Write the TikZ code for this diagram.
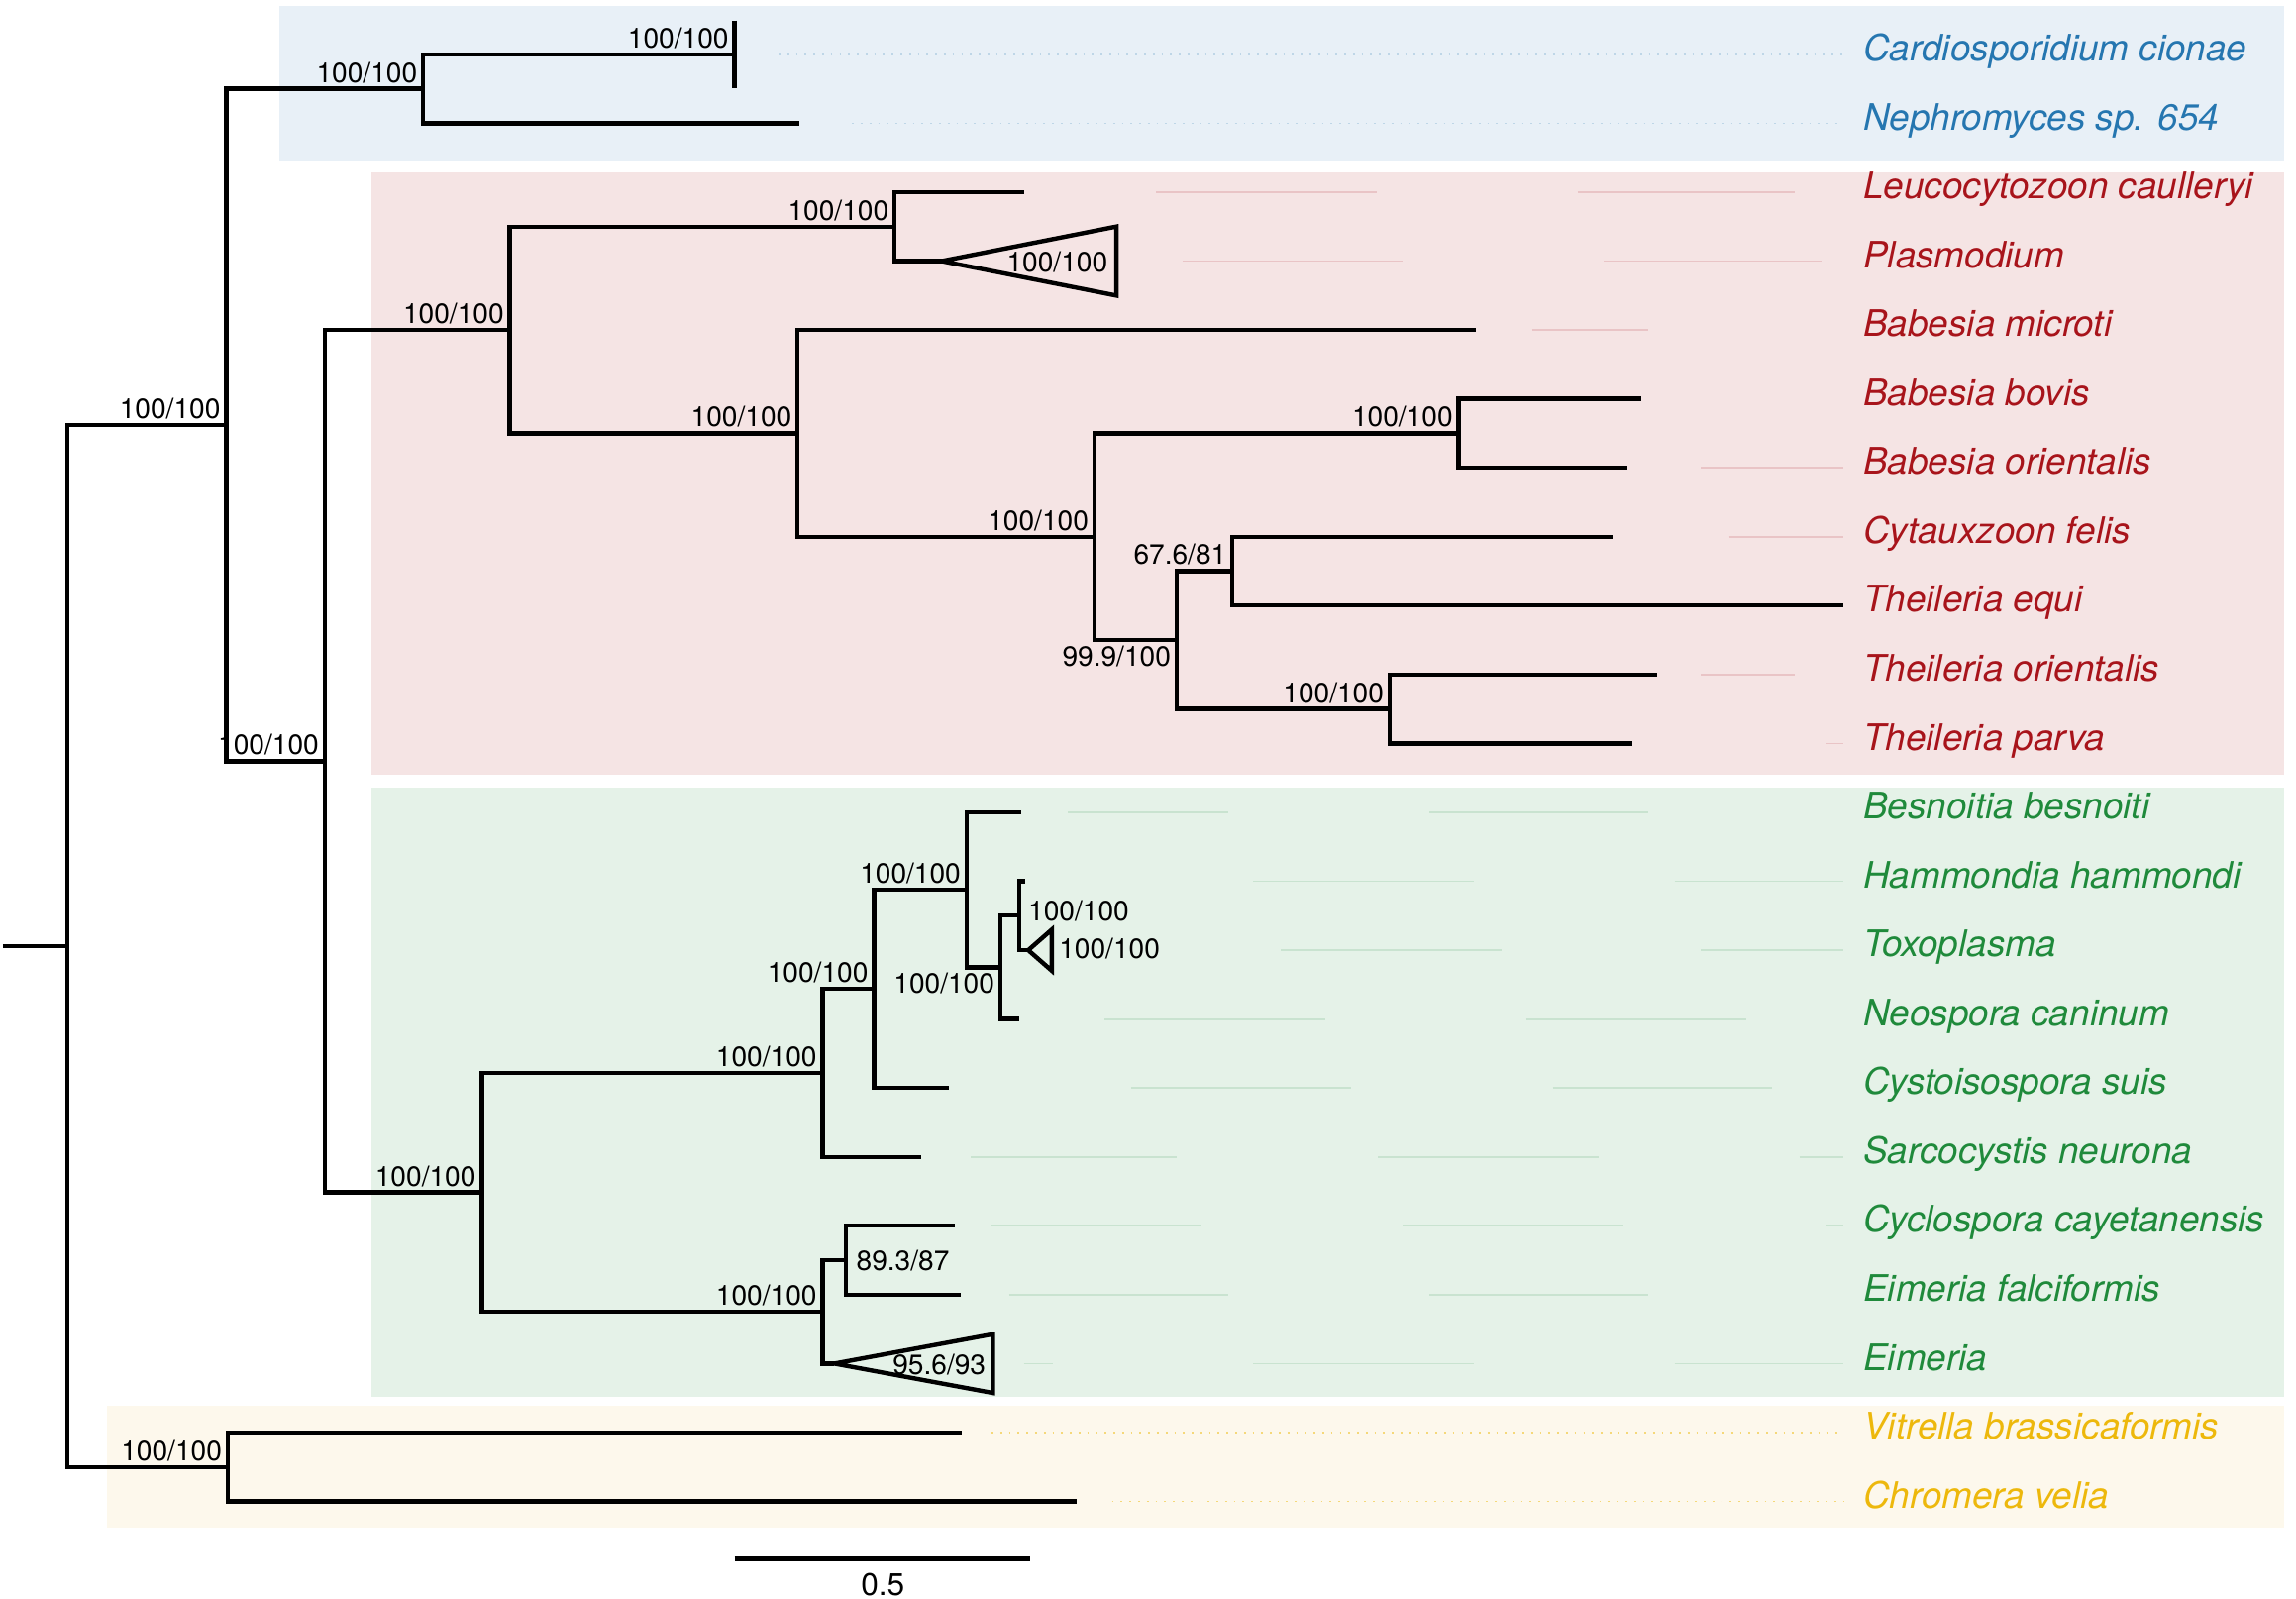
\documentclass[tikz,border=0pt]{standalone}
\usepackage{fontspec}
\setmainfont{TeX Gyre Heros}
\usepackage{tikz}
\usetikzlibrary{calc}

\definecolor{bgblue}{HTML}{E8F0F7}
\definecolor{bgpink}{HTML}{F5E4E4}
\definecolor{bggreen}{HTML}{E5F2E8}
\definecolor{bgyellow}{HTML}{FDF8EC}
\definecolor{txtblue}{HTML}{2576B0}
\definecolor{txtred}{HTML}{A8141B}
\definecolor{txtgreen}{HTML}{1F8A3B}
\definecolor{txtyellow}{HTML}{EDB80C}

\tikzset{
  branch/.style={line width=1.25pt},
  support/.style={font=\fontsize{8}{9}\selectfont, inner sep=1.5pt},
  taxon/.style={anchor=base west, inner sep=0pt, font=\itshape\fontsize{10.5}{12}\selectfont},
  guide/.style={line width=0.5pt},
}

\begin{document}
\begin{tikzpicture}[x=0.01483cm,y=-0.01483cm]
\useasboundingbox (0,0) rectangle (1563,1088.3);

% clade boxes
\fill[bgblue] (190,4) rectangle (1555,110);
\fill[bgpink] (253,117) rectangle (1555,527);
\fill[bggreen] (253,536) rectangle (1555,951);
\fill[bgyellow] (73,957) rectangle (1555,1040);

% faint guide lines to the names
\foreach \y/\a/\b in {37/530/1255, 83.9/580/1255}
  \draw[guide, txtblue!30, dotted] (\a,\y) -- (\b,\y);
\foreach \y/\a/\b in {975/675/1255, 1021.9/757/1255}
  \draw[guide, txtyellow!55, dotted] (\a,\y) -- (\b,\y);
\foreach \y/\a/\b in {130.8/787/937, 130.8/1074/1222, 177.7/805/955, 177.7/1092/1240,
    224.6/1043/1122, 318.4/1158/1255, 365.3/1177/1255, 459.1/1158/1222, 506/1243/1255}
  \draw[guide, txtred!25] (\a,\y) -- (\b,\y);
\foreach \y/\a/\b in {552.9/727/836, 552.9/973/1122, 599.8/853/1003, 599.8/1140/1255,
    646.7/872/1022, 646.7/1158/1255, 693.6/752/902, 693.6/1039/1189,
    740.5/770/920, 740.5/1057/1206, 787.4/661/801, 787.4/938/1088, 787.4/1225/1255,
    834.3/675/818, 834.3/955/1105, 834.3/1243/1255, 881.2/687/836, 881.2/973/1122,
    928.1/697/717, 928.1/853/1003, 928.1/1140/1255}
  \draw[guide, txtgreen!24] (\a,\y) -- (\b,\y);

% inner nodes
\coordinate (stem) at (2,643.9);
\coordinate (root) at (46,643.9);
\coordinate (A) at (154,289.3);
\coordinate (Bl) at (288,60.45);
\coordinate (B) at (221,518.1);
\coordinate (C) at (347,224.6);
\coordinate (D) at (609,154.25);
\coordinate (E) at (543,294.95);
\coordinate (F) at (745,365.3);
\coordinate (G) at (993,294.95);
\coordinate (H) at (801,435.65);
\coordinate (I) at (839,388.75);
\coordinate (J) at (946,482.55);
\coordinate (K) at (328,811.6);
\coordinate (L) at (560,730.25);
\coordinate (M) at (595,673.1);
\coordinate (N) at (658,605.65);
\coordinate (O) at (681,658.4);
\coordinate (P) at (694,623.25);
\coordinate (Q) at (560,892.9);
\coordinate (R) at (576,857.75);
\coordinate (S) at (155,998.45);

% tips
\coordinate (cardio) at (500,37);
\coordinate (neph) at (544,83.9);
\coordinate (leuco) at (697,130.8);
\coordinate (plasmo) at (641,177.7);
\coordinate (bmic) at (1005,224.6);
\coordinate (bbov) at (1117,271.5);
\coordinate (bori) at (1108,318.4);
\coordinate (cyta) at (1098,365.3);
\coordinate (tequi) at (1255,412.2);
\coordinate (tori) at (1128,459.1);
\coordinate (tpar) at (1111,506);
\coordinate (besn) at (695,552.9);
\coordinate (hamm) at (698,599.8);
\coordinate (toxo) at (700,646.7);
\coordinate (neo) at (694,693.6);
\coordinate (cysto) at (646,740.5);
\coordinate (sarco) at (627,787.4);
\coordinate (cyclo) at (650,834.3);
\coordinate (efalc) at (654,881.2);
\coordinate (eim) at (568,928.1);
\coordinate (vitr) at (655,975);
\coordinate (chrom) at (733,1021.9);

% branches
\draw[branch] (stem) -- (root);
\draw[branch] (root) |- (A);
\draw[branch] (root) |- (S);
\draw[branch] (A) |- (Bl);
\draw[branch] (A) |- (B);
\draw[branch] (Bl) |- (cardio);
\draw[branch] (Bl) |- (neph);
\draw[branch] (B) |- (C);
\draw[branch] (B) |- (K);
\draw[branch] (C) |- (D);
\draw[branch] (C) |- (E);
\draw[branch] (D) |- (leuco);
\draw[branch] (D) |- (plasmo);
\draw[branch] (E) |- (bmic);
\draw[branch] (E) |- (F);
\draw[branch] (F) |- (G);
\draw[branch] (F) |- (H);
\draw[branch] (G) |- (bbov);
\draw[branch] (G) |- (bori);
\draw[branch] (H) |- (I);
\draw[branch] (H) |- (J);
\draw[branch] (I) |- (cyta);
\draw[branch] (I) |- (tequi);
\draw[branch] (J) |- (tori);
\draw[branch] (J) |- (tpar);
\draw[branch] (K) |- (L);
\draw[branch] (K) |- (Q);
\draw[branch] (L) |- (M);
\draw[branch] (L) |- (sarco);
\draw[branch] (M) |- (N);
\draw[branch] (M) |- (cysto);
\draw[branch] (N) |- (besn);
\draw[branch] (N) |- (O);
\draw[branch] (O) |- (P);
\draw[branch] (O) |- (neo);
\draw[branch] (P) |- (hamm);
\draw[branch] (P) |- (toxo);
\draw[branch] (Q) |- (R);
\draw[branch] (Q) |- (eim);
\draw[branch] (R) |- (cyclo);
\draw[branch] (R) |- (efalc);
\draw[branch] (S) |- (vitr);
\draw[branch] (S) |- (chrom);

% collapsed clades
\draw[branch] ($(cardio)+(0,-23)$) -- ($(cardio)+(0,23)$);
\draw[branch] (plasmo) -- ++(119,-23.5) -- ++(0,47) -- cycle;
\draw[branch] (toxo) -- ++(16,-14) -- ++(0,28) -- cycle;
\draw[branch] (eim) -- ++(108,-20) -- ++(0,40) -- cycle;

% support values
\node[support, anchor=south east] (sA) at (A) {100/100};
\node[support, anchor=south east] (sBl) at (Bl) {100/100};
\node[support, anchor=south east] (scardio) at (cardio) {100/100};
\node[support, anchor=south east] (sB) at (B) {100/100};
\node[support, anchor=south east] (sC) at (C) {100/100};
\node[support, anchor=south east] (sD) at (D) {100/100};
\node[support, anchor=east] (splasmo) at ($(plasmo)+(117,1)$) {100/100};
\node[support, anchor=south east] (sE) at (E) {100/100};
\node[support, anchor=south east] (sF) at (F) {100/100};
\node[support, anchor=south east] (sG) at (G) {100/100};
\node[support, anchor=north east] (sH) at (H) {99.9/100};
\node[support, anchor=south east] (sI) at (I) {67.6/81};
\node[support, anchor=south east] (sJ) at (J) {100/100};
\node[support, anchor=south east] (sK) at (K) {100/100};
\node[support, anchor=south east] (sL) at (L) {100/100};
\node[support, anchor=south east] (sM) at (M) {100/100};
\node[support, anchor=south east] (sN) at (N) {100/100};
\node[support, anchor=north east] (sO) at (O) {100/100};
\node[support, anchor=west] (sP) at ($(P)+(2,-3)$) {100/100};
\node[support, anchor=west] (stoxo) at ($(toxo)+(17,-1)$) {100/100};
\node[support, anchor=south east] (sQ) at (Q) {100/100};
\node[support, anchor=west] (sR) at ($(R)+(3,0)$) {89.3/87};
\node[support, anchor=east] (seim) at ($(eim)+(107,1)$) {95.6/93};
\node[support, anchor=south east] (sS) at (S) {100/100};

% taxon names
\foreach \t/\r/\c in {Cardiosporidium cionae/0/txtblue, Nephromyces sp. 654/1/txtblue,
    Leucocytozoon caulleryi/2/txtred, Plasmodium/3/txtred, Babesia microti/4/txtred,
    Babesia bovis/5/txtred, Babesia orientalis/6/txtred, Cytauxzoon felis/7/txtred,
    Theileria equi/8/txtred, Theileria orientalis/9/txtred, Theileria parva/10/txtred,
    Besnoitia besnoiti/11/txtgreen, Hammondia hammondi/12/txtgreen, Toxoplasma/13/txtgreen,
    Neospora caninum/14/txtgreen, Cystoisospora suis/15/txtgreen, Sarcocystis neurona/16/txtgreen,
    Cyclospora cayetanensis/17/txtgreen, Eimeria falciformis/18/txtgreen, Eimeria/19/txtgreen,
    Vitrella brassicaformis/20/txtyellow, Chromera velia/21/txtyellow}
  \node[taxon, text=\c] (tx\r) at (1268,{41.5+46.9*\r}) {\t};

% scale bar
\coordinate (bar0) at (500,1061);
\coordinate (bar1) at (701,1061);
\draw[branch] (bar0) -- (bar1);
\node[font=\fontsize{9}{10}\selectfont, anchor=base] (barlabel) at (601,1086) {0.5};
\end{tikzpicture}
\end{document}
